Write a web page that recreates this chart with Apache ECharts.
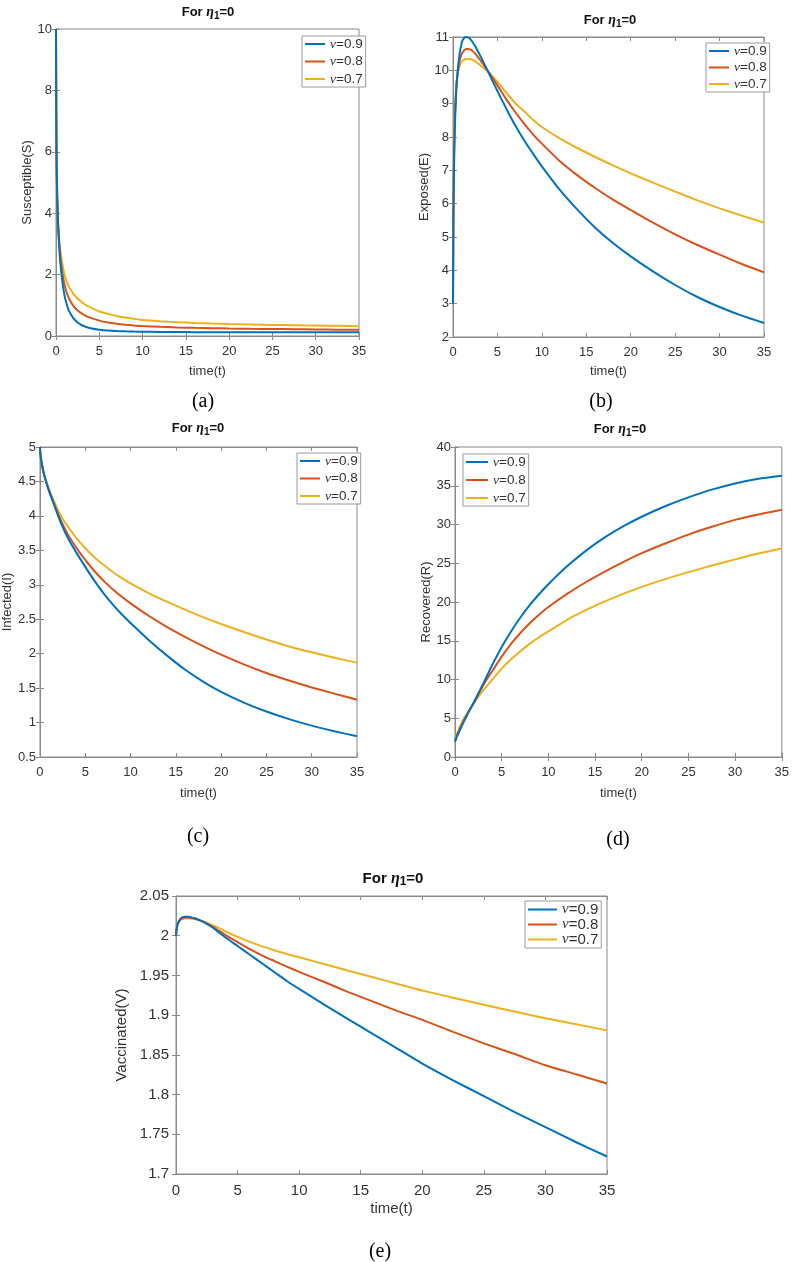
<!DOCTYPE html>
<html>
<head>
<meta charset="utf-8">
<script src="https://cdn.jsdelivr.net/npm/echarts@6/dist/echarts.min.js"></script>
<style>
html,body{margin:0;padding:0;background:#fff;}
#c{width:792px;height:1262px;}
</style>
</head>
<body>
<div id="c"></div>
<script>
// ---- data ----
const T = [0, 0.05, 0.1, 0.2, 0.35, 0.5, 0.75, 1, 1.25, 1.5, 2, 2.5, 3, 3.5, 4, 5, 6, 7, 8, 9, 10, 12, 14, 16, 18, 20, 22.5, 25, 27.5, 30, 32.5, 35];
const seriesNames = ['ν=0.9', 'ν=0.8', 'ν=0.7'];
const xTicks = [0, 5, 10, 15, 20, 25, 30, 35];

const S09 = [10, 6.5, 5.2, 3.9, 3.0, 2.4, 1.75, 1.3, 1.02, 0.82, 0.58, 0.44, 0.35, 0.295, 0.255, 0.205, 0.178, 0.162, 0.152, 0.145, 0.14, 0.133, 0.129, 0.126, 0.124, 0.123, 0.122, 0.121, 0.12, 0.12, 0.12, 0.12];
const S08 = [10, 6.0, 5.0, 3.9, 3.1, 2.6, 2.02, 1.65, 1.4, 1.22, 0.98, 0.83, 0.73, 0.65, 0.59, 0.5, 0.44, 0.4, 0.37, 0.345, 0.325, 0.3, 0.28, 0.265, 0.255, 0.245, 0.235, 0.228, 0.22, 0.213, 0.207, 0.2];
const S07 = [10, 5.6, 4.8, 3.9, 3.2, 2.8, 2.32, 1.98, 1.76, 1.6, 1.38, 1.22, 1.1, 1.0, 0.93, 0.8, 0.72, 0.65, 0.6, 0.56, 0.52, 0.48, 0.45, 0.425, 0.405, 0.39, 0.375, 0.36, 0.35, 0.34, 0.33, 0.32];

const E09 = [3, 5.5, 6.8, 8.2, 9.3, 9.9, 10.5, 10.85, 10.97, 11.0, 10.92, 10.72, 10.47, 10.2, 9.93, 9.38, 8.85, 8.35, 7.9, 7.5, 7.12, 6.42, 5.82, 5.28, 4.82, 4.42, 3.97, 3.56, 3.2, 2.9, 2.64, 2.42];
const E08 = [3, 6.0, 7.2, 8.5, 9.4, 9.85, 10.3, 10.5, 10.6, 10.64, 10.62, 10.5, 10.33, 10.15, 9.95, 9.55, 9.13, 8.75, 8.4, 8.08, 7.8, 7.28, 6.85, 6.47, 6.12, 5.81, 5.43, 5.08, 4.76, 4.47, 4.19, 3.94];
const E07 = [3, 6.5, 7.6, 8.7, 9.5, 9.85, 10.15, 10.27, 10.32, 10.34, 10.33, 10.27, 10.17, 10.06, 9.95, 9.65, 9.33, 9.02, 8.77, 8.52, 8.3, 7.96, 7.67, 7.4, 7.15, 6.91, 6.63, 6.36, 6.1, 5.86, 5.64, 5.43];

const I09 = [5, 4.9, 4.84, 4.76, 4.66, 4.58, 4.46, 4.36, 4.27, 4.18, 4.0, 3.84, 3.7, 3.58, 3.47, 3.26, 3.06, 2.88, 2.72, 2.575, 2.445, 2.2, 1.975, 1.77, 1.595, 1.445, 1.29, 1.16, 1.05, 0.955, 0.875, 0.8];
const I08 = [5, 4.9, 4.84, 4.76, 4.66, 4.58, 4.47, 4.37, 4.28, 4.2, 4.03, 3.88, 3.75, 3.64, 3.54, 3.36, 3.2, 3.06, 2.94, 2.83, 2.73, 2.55, 2.39, 2.245, 2.11, 1.985, 1.845, 1.72, 1.61, 1.51, 1.42, 1.33];
const I07 = [5, 4.9, 4.84, 4.76, 4.66, 4.58, 4.48, 4.39, 4.3, 4.23, 4.08, 3.96, 3.86, 3.77, 3.68, 3.53, 3.4, 3.29, 3.19, 3.1, 3.02, 2.88, 2.755, 2.64, 2.53, 2.43, 2.315, 2.205, 2.105, 2.02, 1.94, 1.87];

const R09 = [2, 2.15, 2.3, 2.6, 3.0, 3.4, 4.05, 4.7, 5.3, 5.9, 7.0, 8.2, 9.4, 10.65, 11.9, 14.2, 16.2, 18.0, 19.6, 21.0, 22.3, 24.6, 26.6, 28.3, 29.75, 31.0, 32.35, 33.5, 34.5, 35.3, 35.9, 36.3];
const R08 = [2, 2.2, 2.4, 2.75, 3.2, 3.6, 4.25, 4.85, 5.4, 5.95, 7.0, 8.1, 9.2, 10.2, 11.1, 12.95, 14.6, 16.0, 17.25, 18.35, 19.35, 21.05, 22.55, 23.9, 25.15, 26.3, 27.55, 28.7, 29.7, 30.6, 31.3, 31.9];
const R07 = [2, 2.3, 2.55, 2.95, 3.45, 3.85, 4.5, 5.05, 5.55, 6.0, 6.9, 7.75, 8.55, 9.3, 10.0, 11.4, 12.6, 13.65, 14.6, 15.45, 16.2, 17.7, 18.95, 20.05, 21.05, 21.95, 22.95, 23.85, 24.7, 25.5, 26.25, 26.9];

const V09 = [2.0, 2.008, 2.012, 2.017, 2.021, 2.023, 2.024, 2.024, 2.023, 2.022, 2.019, 2.015, 2.010, 2.004, 1.998, 1.987, 1.976, 1.965, 1.954, 1.943, 1.933, 1.9136, 1.8948, 1.8762, 1.8576, 1.839, 1.818, 1.798, 1.778, 1.759, 1.740, 1.722];
const V08 = [2.0, 2.009, 2.013, 2.017, 2.020, 2.022, 2.023, 2.023, 2.0225, 2.022, 2.019, 2.0155, 2.011, 2.006, 2.001, 1.992, 1.983, 1.975, 1.968, 1.961, 1.9545, 1.942, 1.929, 1.917, 1.905, 1.894, 1.879, 1.8645, 1.851, 1.837, 1.8255, 1.814];
const V07 = [2.0, 2.010, 2.013, 2.017, 2.020, 2.021, 2.022, 2.022, 2.0215, 2.021, 2.019, 2.0165, 2.013, 2.0095, 2.0058, 1.9985, 1.9922, 1.9866, 1.9816, 1.977, 1.9728, 1.9645, 1.956, 1.9477, 1.9393, 1.931, 1.922, 1.913, 1.9045, 1.896, 1.8885, 1.881];

const yLabelsA = [0, 2, 4, 6, 8, 10];
const yLabelsB = [2, 3, 4, 5, 6, 7, 8, 9, 10, 11];
const yLabelsC = [0.5, 1, 1.5, 2, 2.5, 3, 3.5, 4, 4.5, 5];
const yLabelsD = [0, 5, 10, 15, 20, 25, 30, 35, 40];
const yLabelsE = [1.7, 1.75, 1.8, 1.85, 1.9, 1.95, 2, 2.05];

const colors = ['#0072BD', '#D95319', '#EDB120'];

// ---- layout ----
const panels = [
  {grid:{left:56, top:29, width:303, height:307}, yName:'Susceptible(S)', yTicks:yLabelsA, data:[S09,S08,S07],
   yNameGap:14, xNameGap:29, fs:13, title:{x:208, y:3, fs:13}, legend:{left:302, top:36, w:20, fs:13.5, gap:3.5}, cap:{x:203, y:402, t:'(a)'}},
  {grid:{left:453, top:37, width:311, height:300}, yName:'Exposed(E)', yTicks:yLabelsB, data:[E09,E08,E07],
   yNameGap:11, xNameGap:28, fs:13, title:{x:610, y:11, fs:13}, legend:{left:706, top:43, w:20, fs:13.5, gap:2.5}, cap:{x:601, y:402, t:'(b)'}},
  {grid:{left:37, top:447, width:320, height:310}, yName:'Infected(I)', yTicks:yLabelsC, data:[I09,I08,I07],
   yNameGap:24, xNameGap:30, fs:13, title:{x:198, y:419, fs:13}, legend:{left:297, top:453, w:20, fs:13.5, gap:3.5}, cap:{x:198, y:837, t:'(c)'}},
  {grid:{left:455, top:447, width:328, height:310}, yName:'Recovered(R)', yTicks:yLabelsD, data:[R09,R08,R07],
   yNameGap:18, xNameGap:30, fs:13, title:{x:620, y:420, fs:13}, legend:{left:463, top:454, w:22, fs:13.5, gap:4}, cap:{x:618, y:840, t:'(d)'}},
  {grid:{left:176, top:896, width:431, height:278}, yName:'Vaccinated(V)', yTicks:yLabelsE, data:[V09,V08,V07],
   yNameGap:23, xNameGap:27, fs:15, title:{x:393, y:870, fs:15}, legend:{left:525, top:901, w:29, fs:15, gap:0}, cap:{x:380, y:1252, t:'(e)'}}
];

const axisColor = '#8a8a8a';
const labelColor = '#333';
const fontFam = '"Liberation Sans Narrow", "Liberation Sans", Arial, sans-serif';
const fontWide = '"Liberation Sans", Arial, sans-serif';
const fmt = v => String(+(+v).toFixed(3));

const grids = [], xAxes = [], yAxes = [], series = [], legends = [], titles = [], graphics = [];

panels.forEach((p, i) => {
  const ff = i === 4 ? fontWide : fontFam;
  grids.push(Object.assign({show:true, borderColor:axisColor, borderWidth:1, backgroundColor:'#fff'}, p.grid));
  const yt = p.yTicks;
  const common = {
    type:'value', gridIndex:i,
    axisLine:{show:true, lineStyle:{color:axisColor, width:1}},
    axisTick:{show:true, inside:true, length:4, lineStyle:{color:axisColor}},
    splitLine:{show:false}
  };
  xAxes.push(Object.assign({}, common, {
    position:'bottom', min:xTicks[0], max:xTicks[xTicks.length-1], interval:xTicks[1]-xTicks[0],
    axisLabel:{color:labelColor, fontSize:p.fs, fontFamily:ff, margin:9, formatter:fmt},
    name:'time(t)', nameLocation:'middle', nameGap:p.xNameGap,
    nameTextStyle:{color:labelColor, fontSize:p.fs, fontFamily:ff}
  }));
  xAxes.push(Object.assign({}, common, {
    position:'top', min:xTicks[0], max:xTicks[xTicks.length-1], interval:xTicks[1]-xTicks[0],
    axisLabel:{show:false}
  }));
  const yint = +(yt[1]-yt[0]).toFixed(4);
  yAxes.push(Object.assign({}, common, {
    position:'left', min:yt[0], max:yt[yt.length-1], interval:yint,
    axisLabel:{color:labelColor, fontSize:p.fs, fontFamily:ff, margin:i === 4 ? 7 : 4, formatter:fmt},
    name:p.yName, nameLocation:'middle', nameGap:p.yNameGap,
    nameTextStyle:{color:labelColor, fontSize:p.fs, fontFamily:ff}
  }));
  yAxes.push(Object.assign({}, common, {
    position:'right', min:yt[0], max:yt[yt.length-1], interval:yint,
    axisLabel:{show:false}
  }));
  p.data.forEach((arr, k) => {
    series.push({
      type:'line', name:seriesNames[k], xAxisIndex:2*i, yAxisIndex:2*i,
      data:T.map((t, j) => [t, arr[j]]),
      symbol:'none', smooth:0.2,
      lineStyle:{color:colors[k], width:2}, itemStyle:{color:colors[k]},
      z:5 - k, animation:false
    });
  });
  legends.push({
    orient:'vertical', left:p.legend.left, top:p.legend.top,
    data:seriesNames, icon:'rect', itemWidth:p.legend.w, itemHeight:2, itemGap:p.legend.gap,
    padding:[1,3,1,3], borderColor:'#9a9a9a', borderWidth:1, backgroundColor:'#fff',
    selectedMode:false,
    formatter: n => '{i|ν}{n|' + n.slice(1) + '}',
    textStyle:{rich:{
      i:{fontStyle:'italic', fontFamily:'"Liberation Serif", serif', fontSize:p.legend.fs, color:'#333'},
      n:{fontFamily:ff, fontSize:p.legend.fs, color:'#333'}
    }}
  });
  titles.push({
    text:'{b|For }{g|η}{s|1}{b|=0}',
    left:p.title.x, top:p.title.y, textAlign:'center', padding:0,
    textStyle:{rich:{
      b:{fontWeight:'bold', fontSize:p.title.fs, fontFamily:fontWide, color:'#111', lineHeight:18},
      g:{fontStyle:'italic', fontFamily:'"Liberation Serif", serif', fontSize:p.title.fs+1, color:'#111', lineHeight:18},
      s:{fontWeight:'bold', fontSize:p.title.fs-3, fontFamily:fontWide, color:'#111', lineHeight:9, verticalAlign:'bottom'}
    }}
  });
  graphics.push({
    type:'text', x:p.cap.x, y:p.cap.y,
    style:{text:p.cap.t, font:'20px "Liberation Serif", serif', fill:'#000', textAlign:'center', textVerticalAlign:'middle'}
  });
});

const chart = echarts.init(document.getElementById('c'), null, {renderer:'canvas'});
chart.setOption({
  animation:false,
  backgroundColor:'#fff',
  title:titles, grid:grids, xAxis:xAxes, yAxis:yAxes, legend:legends, series:series, graphic:graphics
});
</script>
</body>
</html>
